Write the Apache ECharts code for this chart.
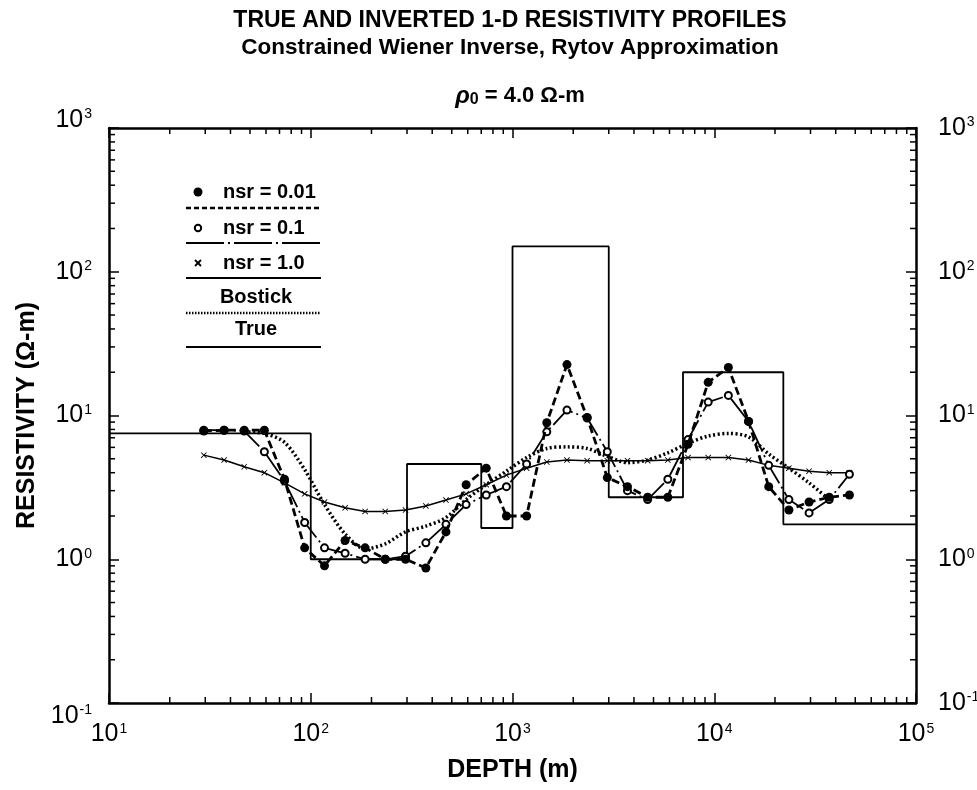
<!DOCTYPE html>
<html><head><meta charset="utf-8">
<script src="https://cdn.jsdelivr.net/npm/echarts/dist/echarts.min.js"></script>
<style>html,body{margin:0;padding:0;background:#fff}#c{width:977px;height:790px}</style>
</head><body><div id="c"></div>
<script>
// ---- data ----
const depths = [29.5, 37.2, 46.8, 58.9, 74.1, 93.3, 117, 148, 186, 234, 295, 372, 468, 589, 741, 933,
  1175, 1479, 1862, 2344, 2951, 3715, 4677, 5888, 7413, 9333, 11749, 14791, 18621, 23442, 29512, 37154, 46774];
const nsr001 = [7.8, 7.9, 7.9, 7.9, 3.6, 1.2, 0.9, 1.35, 1.2, 1.0, 1.0, 0.87, 1.55, 3.3, 4.3, 2.0, 2.0,
  8.9, 22.6, 9.7, 3.7, 3.2, 2.7, 2.7, 6.3, 17, 21.6, 9.1, 3.2, 2.2, 2.5, 2.7, 2.8];
const nsr01 = [7.9, 7.9, 7.8, 5.6, 3.5, 1.8, 1.2, 1.1, 1.0, 1.0, 1.05, 1.3, 1.75, 2.4, 2.8, 3.2, 4.6,
  7.7, 10.9, 9.6, 5.6, 3.0, 2.6, 3.6, 6.8, 12.4, 13.8, 9.1, 4.5, 2.6, 2.1, 2.6, 3.9];
const nsr10 = [5.3, 4.9, 4.4, 4.0, 3.4, 2.85, 2.5, 2.28, 2.15, 2.15, 2.2, 2.35, 2.58, 2.85, 3.3, 3.85, 4.3,
  4.75, 4.9, 4.85, 4.85, 4.85, 4.85, 4.9, 5.1, 5.1, 5.1, 4.9, 4.5, 4.3, 4.1, 4.0, 4.0];
const bostick = [null, null, 7.7, 7.5, 6.5, 4.2, 2.4, 1.5, 1.18, 1.28, 1.55, 1.7, 1.95, 2.6, 3.3, 4.1, 5.1,
  5.9, 6.05, 5.9, 5.2, 4.7, 4.9, 5.5, 6.4, 7.2, 7.5, 7.1, 5.4, 4.3, 3.4, 2.6, null];
const trueDepths = [10, 100, 300, 700, 1000, 3000, 7000, 22000, 100000];
const trueValues = [7.5, 1.0, 4.6, 1.65, 150, 2.7, 20, 1.75, 1.75];
const xRange = [10, 100000];
const yRange = [0.1, 1000];

const FONT = 'Liberation Sans';
const TFONT = 'Liberation Sans';
const minorX = [], minorY = [];
for (let e = 1; e < 5; e++) for (let m = 2; m <= 9; m++) minorX.push(m * Math.pow(10, e));
for (let e = -1; e < 3; e++) for (let m = 2; m <= 9; m++) minorY.push(+(m * Math.pow(10, e)).toPrecision(3));

const pairs = arr => depths.map((d, i) => [d, arr[i]]);
const supFmt = v => '{b|10}{s|' + Math.round(Math.log10(v)) + '}';
// left axis: top label nudged up, bottom label nudged down (as in the reference)
const supFmtLeft = v => {
  const e = Math.round(Math.log10(v));
  if (e === 3) return '{bu|10}{su|' + e + '}';
  if (e === -1) return '{bd|10}{sd|' + e + '}';
  return '{b|10}{s|' + e + '}';
};
const bStyle = { fontFamily: TFONT, fontSize: 25, color: '#000' };
const sStyle = { fontFamily: TFONT, fontSize: 14, color: '#000', verticalAlign: 'top', padding: [0, 0, 0, 1] };
const rich = { b: bStyle, s: sStyle };
const richLeft = {
  b: bStyle, s: sStyle,
  bu: Object.assign({}, bStyle, { padding: [0, 0, 16, 0] }),
  su: Object.assign({}, sStyle, { padding: [0, 0, 16, 1] }),
  bd: Object.assign({}, bStyle, { padding: [26, 0, 0, 0] }),
  sd: Object.assign({}, sStyle, { padding: [26, 0, 0, 1] })
};
const axisCommon = {
  type: 'log', logBase: 10,
  axisLine: { lineStyle: { color: '#000', width: 2.5 } },
  axisTick: { inside: true, length: 10, lineStyle: { color: '#000', width: 1.5 } },
  splitLine: { show: false },
  minorTick: { show: false }
};

const chart = echarts.init(document.getElementById('c'), null, { renderer: 'canvas' });
const xPath = 'path://M0,1L1,0L5,4L9,0L10,1L6,5L10,9L9,10L5,6L1,10L0,9L4,5Z';
const LF = 'bold 20px ' + FONT;

chart.setOption({
  animation: false,
  backgroundColor: '#fff',
  grid: { left: 109, right: 61, top: 128, bottom: 87, containLabel: false, outerBoundsMode: 'none' },
  xAxis: [
    Object.assign({}, axisCommon, { min: xRange[0], max: xRange[1], position: 'bottom',
      axisLabel: { formatter: supFmt, rich: rich, margin: 19, showMinLabel: true, showMaxLabel: true },
      name: 'DEPTH (m)', nameLocation: 'middle', nameGap: 55,
      nameTextStyle: { fontFamily: FONT, fontSize: 25, fontWeight: 'bold', color: '#000' } }),
    Object.assign({}, axisCommon, { min: xRange[0], max: xRange[1], position: 'top', axisLabel: { show: false } })
  ],
  yAxis: [
    Object.assign({}, axisCommon, { min: yRange[0], max: yRange[1], position: 'left',
      axisLabel: { formatter: supFmtLeft, rich: richLeft, margin: 17, showMinLabel: true, showMaxLabel: true },
      name: 'RESISTIVITY (\u03A9-m)', nameLocation: 'middle', nameGap: 56, nameRotate: 90,
      nameTextStyle: { fontFamily: FONT, fontSize: 25, fontWeight: 'bold', color: '#000' } }),
    Object.assign({}, axisCommon, { min: yRange[0], max: yRange[1], position: 'right',
      axisLabel: { formatter: supFmt, rich: rich, margin: 22, showMinLabel: true, showMaxLabel: true } })
  ],
  graphic: [
    { type: 'text', x: 510, y: 21, silent: true,
      style: { text: 'TRUE AND INVERTED 1-D RESISTIVITY PROFILES', font: 'bold 23px ' + FONT, fill: '#000', align: 'center', verticalAlign: 'middle' } },
    { type: 'text', x: 510, y: 48, silent: true,
      style: { text: 'Constrained Wiener Inverse, Rytov Approximation', font: 'bold 22.5px ' + FONT, fill: '#000', align: 'center', verticalAlign: 'middle' } },
    { type: 'text', x: 520, y: 96, silent: true,
      style: { text: '{r|\u03C1}{sub|0}{n| = 4.0 \u03A9-m}', align: 'center', verticalAlign: 'middle',
        rich: {
          r: { font: 'italic bold 24px ' + FONT, fill: '#000' },
          sub: { font: 'bold 16px ' + FONT, fill: '#000', verticalAlign: 'bottom' },
          n: { font: 'bold 22px ' + FONT, fill: '#000' }
        } } },
    // legend
    { type: 'circle', silent: true, shape: { cx: 198, cy: 192, r: 4.5 }, style: { fill: '#000' } },
    { type: 'text', x: 223, y: 192, silent: true, style: { text: 'nsr = 0.01', font: LF, fill: '#000', verticalAlign: 'middle' } },
    { type: 'line', silent: true, shape: { x1: 186, y1: 208, x2: 322, y2: 208 }, style: { stroke: '#000', lineWidth: 2.5, lineDash: [5, 3] } },
    { type: 'circle', silent: true, shape: { cx: 198, cy: 228, r: 3.2 }, style: { fill: '#fff', stroke: '#000', lineWidth: 2 } },
    { type: 'text', x: 223, y: 228, silent: true, style: { text: 'nsr = 0.1', font: LF, fill: '#000', verticalAlign: 'middle' } },
    { type: 'line', silent: true, shape: { x1: 186, y1: 243, x2: 320, y2: 243 }, style: { stroke: '#000', lineWidth: 1.8, lineDash: [38, 4, 2, 4] } },
    { type: 'line', silent: true, shape: { x1: 195, y1: 260, x2: 201, y2: 266 }, style: { stroke: '#000', lineWidth: 1.8 } },
    { type: 'line', silent: true, shape: { x1: 201, y1: 260, x2: 195, y2: 266 }, style: { stroke: '#000', lineWidth: 1.8 } },
    { type: 'text', x: 223, y: 263, silent: true, style: { text: 'nsr = 1.0', font: LF, fill: '#000', verticalAlign: 'middle' } },
    { type: 'line', silent: true, shape: { x1: 186, y1: 278, x2: 321, y2: 278 }, style: { stroke: '#000', lineWidth: 2 } },
    { type: 'text', x: 256, y: 297, silent: true, style: { text: 'Bostick', font: LF, fill: '#000', align: 'center', verticalAlign: 'middle' } },
    { type: 'line', silent: true, shape: { x1: 186, y1: 313, x2: 321, y2: 313 }, style: { stroke: '#000', lineWidth: 2.5, lineDash: [1.5, 1.5] } },
    { type: 'text', x: 256, y: 329, silent: true, style: { text: 'True', font: LF, fill: '#000', align: 'center', verticalAlign: 'middle' } },
    { type: 'line', silent: true, shape: { x1: 186, y1: 347, x2: 321, y2: 347 }, style: { stroke: '#000', lineWidth: 2 } }
  ],
  series: [
    { name: 'True', type: 'line', step: 'end', symbol: 'none', z: 2,
      data: trueDepths.map((d, i) => [d, trueValues[i]]),
      lineStyle: { color: '#000', width: 1.8 } },
    { name: 'Bostick', type: 'line', symbol: 'none', smooth: 0.3, z: 3,
      data: pairs(bostick),
      lineStyle: { color: '#000', width: 3.5, type: [2, 2.5] } },
    { name: 'nsr = 1.0', type: 'line', symbol: xPath, symbolSize: 6, z: 4,
      data: pairs(nsr10),
      lineStyle: { color: '#000', width: 1.5 }, itemStyle: { color: '#000' } },
    { name: 'nsr = 0.1', type: 'line', symbol: 'circle', symbolSize: 7, z: 5,
      data: pairs(nsr01),
      lineStyle: { color: '#000', width: 1.8, type: [26, 4, 2, 4] },
      itemStyle: { color: '#fff', borderColor: '#000', borderWidth: 2 } },
    { name: 'nsr = 0.01', type: 'line', symbol: 'circle', symbolSize: 9, z: 6,
      data: pairs(nsr001),
      lineStyle: { color: '#000', width: 2.8, type: [8, 4] },
      itemStyle: { color: '#000' } },
    { type: 'custom', silent: true, clip: false, z: 10,
      data: minorX.map(v => [v, 1]),
      renderItem: function (params, api) {
        const cs = params.coordSys;
        const x = api.coord([api.value(0), 1])[0];
        const L = 6, b = cs.y + cs.height, t = cs.y;
        return { type: 'group', children: [
          { type: 'line', shape: { x1: x, y1: b, x2: x, y2: b - L }, style: { stroke: '#000', lineWidth: 1.5 } },
          { type: 'line', shape: { x1: x, y1: t, x2: x, y2: t + L }, style: { stroke: '#000', lineWidth: 1.5 } }
        ] };
      } },
    { type: 'custom', silent: true, clip: false, z: 10,
      data: minorY.map(v => [100, v]),
      renderItem: function (params, api) {
        const cs = params.coordSys;
        const y = api.coord([100, api.value(1)])[1];
        const L = 6, l = cs.x, r = cs.x + cs.width;
        return { type: 'group', children: [
          { type: 'line', shape: { x1: l, y1: y, x2: l + L, y2: y }, style: { stroke: '#000', lineWidth: 1.5 } },
          { type: 'line', shape: { x1: r, y1: y, x2: r - L, y2: y }, style: { stroke: '#000', lineWidth: 1.5 } }
        ] };
      } }
  ]
});
</script>
</body></html>
